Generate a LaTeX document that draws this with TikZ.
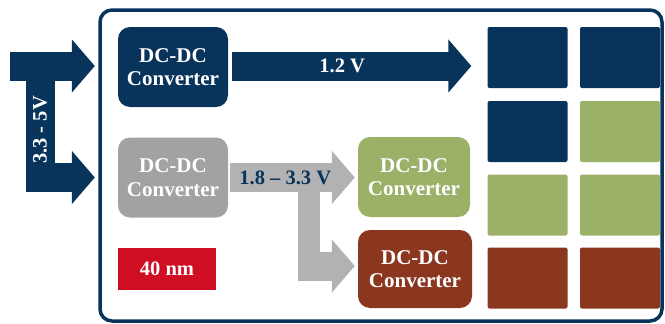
\documentclass[tikz,border=0pt]{standalone}
\usepackage{fontspec}
\setmainfont{Liberation Serif}
\usetikzlibrary{arrows.meta,positioning}

\definecolor{navy}{RGB}{8,52,92}
\definecolor{convgray}{RGB}{162,162,162}
\definecolor{arrgray}{RGB}{178,178,178}
\definecolor{leaf}{RGB}{155,177,104}
\definecolor{rust}{RGB}{139,55,32}
\definecolor{chipred}{RGB}{207,13,35}

\tikzset{
  conv/.style={rounded corners=12pt, minimum width=110pt, minimum height=80pt,
    inner sep=0pt, align=center, text=white,
    font=\fontsize{21}{23.5}\selectfont\bfseries},
  cell/.style={rounded corners=2pt, minimum width=80pt, minimum height=61pt, inner sep=0pt},
  fatblue/.style={draw=navy, line width=29pt, -{Triangle[length=23pt,width=52pt]}},
  fatgray/.style={draw=arrgray, line width=29pt, -{Triangle[length=23pt,width=52pt]}},
  lbl/.style={font=\fontsize{20.5}{23}\selectfont\bfseries}
}

\begin{document}
\begin{tikzpicture}[x=1pt,y=-1pt]
	\useasboundingbox (0,0) rectangle (665,324);
	
	% chip outline
	\draw[navy, line width=3.5pt, rounded corners=12pt] (100,10) rectangle (662,321);
	
	% converters
	\node[conv, fill=navy] (c1) at (173,67) {DC-DC\\Converter};
	\node[conv, fill=convgray] (c2) at (173,177.5) {DC-DC\\Converter};
	\node[conv, fill=leaf, minimum width=112pt] (c3) at (414,177) {DC-DC\\Converter};
	\node[conv, fill=rust, minimum width=114pt, minimum height=78pt] (c4) at (415,269) {DC-DC\\Converter};
	\node[fill=chipred, minimum width=98pt, minimum height=42pt, inner sep=0pt,
		text=white, lbl] (nm) at (167,269) {40 nm};
	
	% core grid
	\node[cell, fill=navy] (g11) at (527.5,57.5) {};
	\node[cell, fill=navy] (g12) at (620,57.5) {};
	\node[cell, fill=navy] (g21) at (527.5,131.5) {};
	\node[cell, fill=leaf] (g22) at (620,131.5) {};
	\node[cell, fill=leaf] (g31) at (527.5,205) {};
	\node[cell, fill=leaf] (g32) at (620,205) {};
	\node[cell, fill=rust] (g41) at (527.5,278) {};
	\node[cell, fill=rust] (g42) at (620,278) {};
	
	% supply input
	\coordinate (vin) at (10,66);
	\coordinate (vsplit) at (40,66);
	\draw[fatblue, shorten >=23pt] (vin) -- (c1.west |- vin);
	\draw[fatblue, line join=miter, shorten >=23pt] (vsplit) |- (c2.west);
	\node[text=white, lbl, rotate=90] (vlbl) at (40,130) {3.3 - 5V};
	
	% 1.2 V rail
	\draw[fatblue, shorten <=4pt, shorten >=16pt] (c1.east |- vin) -- node[pos=0.44, text=white, lbl] {1.2 V} (g11.west |- vin);
	
	% 1.8 - 3.3 V rail
	\coordinate (gsplit) at (309,177.5);
	\coordinate (gbend) at (309,266);
	\draw[arrgray, line width=22pt] (gsplit) -- ([yshift=14pt]gbend);
	\draw[fatgray, shorten >=3pt] ([xshift=-11pt]gbend) -- (c4.west |- gbend);
	\draw[fatgray, shorten <=2pt, shorten >=3pt] (c2.east) -- node[pos=0.44, text=navy, lbl] {1.8 -- 3.3 V} (c3.west |- c2.east);
\end{tikzpicture}
\end{document}
